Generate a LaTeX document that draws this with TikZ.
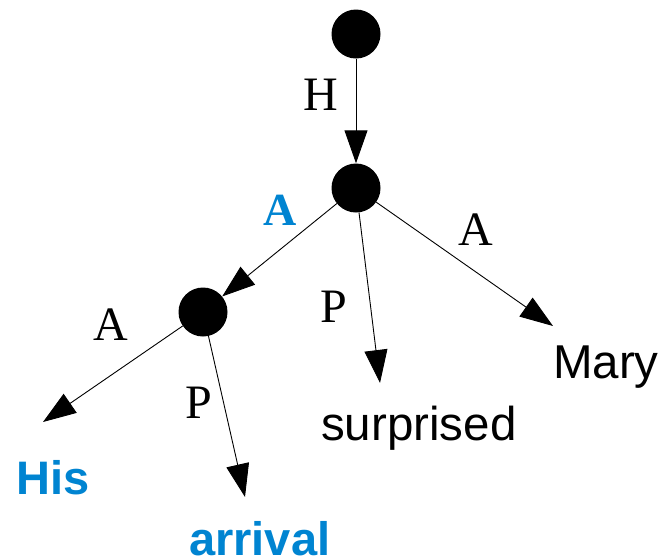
\documentclass[tikz,border=0pt]{standalone}
\usepackage{fontspec}
\setmainfont{Liberation Serif}
\setsansfont{Liberation Sans}
\usetikzlibrary{arrows.meta}
\definecolor{ucblue}{RGB}{0,132,209}
\begin{document}
\begin{tikzpicture}[x=1pt,y=-1pt,
  dot/.style={circle,fill=black,minimum size=49pt,inner sep=0pt},
  edge/.style={-{Triangle[length=33pt,width=23pt]},line width=0.9pt},
  lab/.style={font=\fontsize{48}{56}\selectfont,anchor=base west,inner sep=0pt},
  word/.style={font=\sffamily\fontsize{47.5}{56}\selectfont,anchor=base west,inner sep=0pt},
  hi/.style={text=ucblue,font=\sffamily\bfseries\fontsize{47}{56}\selectfont}]
\useasboundingbox (0,0) rectangle (662,560);
\node[dot] (root) at (356,34) {};
\node[dot] (mid) at (356,188) {};
\node[dot] (left) at (203,312) {};
\coordinate (tHis) at (43,422);
\coordinate (tArr) at (245,497);
\coordinate (tSur) at (380,383);
\coordinate (tMary) at (553,326);
\node[word] (mary) at (553,378) {Mary};
\node[word] (sur) at (321,440) {surprised};
\node[word,hi] (his) at (16,494) {His};
\node[word,hi] (arr) at (189,555) {arrival};
\draw[edge] (root) -- (mid);
\draw[edge] (mid) -- (left);
\draw[edge] (mid) -- (tSur);
\draw[edge] (mid) -- (tMary);
\draw[edge] (left) -- (tHis);
\draw[edge] (left) -- (tArr);
\node[lab] (lH) at (303,110) {H};
\node[lab,text=ucblue,font=\bfseries\fontsize{46}{56}\selectfont] (lA1) at (263,225) {A};
\node[lab] (lA2) at (458,245) {A};
\node[lab] (lP1) at (320,322) {P};
\node[lab] (lA3) at (93,340) {A};
\node[lab] (lP2) at (185,418) {P};
\end{tikzpicture}
\end{document}
